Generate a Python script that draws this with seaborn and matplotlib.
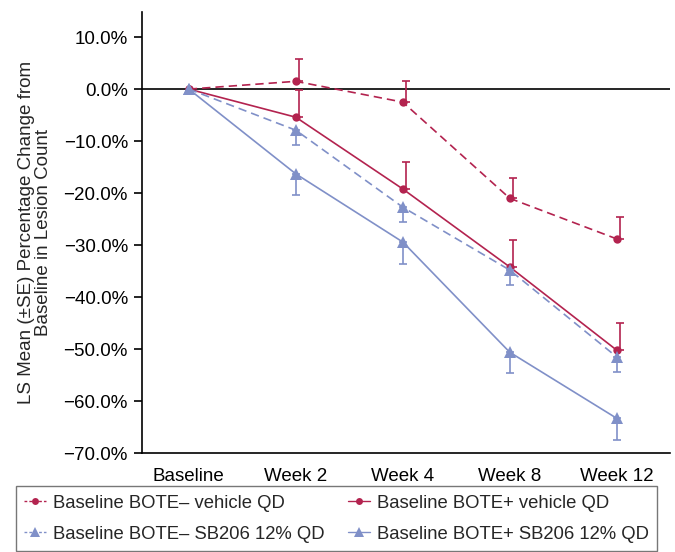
import matplotlib
matplotlib.use("Agg")
import matplotlib.pyplot as plt
import seaborn as sns
import pandas as pd
import numpy as np
from matplotlib.lines import Line2D

sns.set_theme(style="white")
plt.rcParams['font.family'] = ['Liberation Sans', 'DejaVu Sans']

timepoints = ["Baseline", "Week 2", "Week 4", "Week 8", "Week 12"]
series_names = ["Baseline BOTE\u2013 vehicle QD", "Baseline BOTE+ vehicle QD",
                "Baseline BOTE\u2013 SB206 12% QD", "Baseline BOTE+ SB206 12% QD"]

neg_vehicle = [0.0, 1.5, -2.5, -21.0, -28.8]
neg_vehicle_se = [0.0, 4.3, 4.0, 4.0, 4.2]
pos_vehicle = [0.0, -5.4, -19.2, -34.2, -50.2]
pos_vehicle_se = [0.0, 5.2, 5.2, 5.2, 5.2]
neg_sb206 = [0.0, -7.9, -22.7, -34.8, -51.5]
neg_sb206_se = [0.0, 2.9, 2.9, 2.9, 2.9]
pos_sb206 = [0.0, -16.3, -29.4, -50.6, -63.3]
pos_sb206_se = [0.0, 4.1, 4.2, 4.0, 4.2]

red = "#B3234F"
blue = "#8090C8"

styles = [
    (series_names[0], neg_vehicle, neg_vehicle_se, red, "o", (0, (5, 3)), "up"),
    (series_names[1], pos_vehicle, pos_vehicle_se, red, "o", "-", "up"),
    (series_names[2], neg_sb206, neg_sb206_se, blue, "^", (0, (5, 3)), "down"),
    (series_names[3], pos_sb206, pos_sb206_se, blue, "^", "-", "down"),
]

fig = plt.figure(figsize=(6.75, 5.52), dpi=100)
ax = fig.add_axes([0.210, 0.179, 0.783, 0.799])

x = np.arange(len(timepoints))
handles = []
for name, vals, se, col, mk, ls, direction in styles:
    df = pd.DataFrame({"x": x, "y": vals})
    msize = 6 if mk == "o" else 9
    sns.lineplot(data=df, x="x", y="y", ax=ax, color=col, marker=mk,
                 markersize=msize, markeredgewidth=0, linewidth=1.2,
                 linestyle=ls, legend=False)
    se = np.array(se)
    if direction == "up":
        yerr = [np.zeros_like(se), se]
        xo = x + 0.03
    else:
        yerr = [se, np.zeros_like(se)]
        xo = x
    ax.errorbar(xo[1:], np.array(vals)[1:], yerr=[yerr[0][1:], yerr[1][1:]],
                fmt="none", ecolor=col, elinewidth=1.2, capsize=3, capthick=1.2)
    hls = (0, (2, 1.5)) if ls != "-" else "-"
    handles.append(Line2D([0], [0], color=col, marker=mk, markersize=5 if mk == "o" else 7,
                          markeredgewidth=0, linestyle=hls, linewidth=1.0))

ax.axhline(0, color="black", linewidth=1.2, zorder=0)
ax.set_xlim(-0.44, 4.5)
ax.set_ylim(-70, 14.8)
ax.set_yticks(np.arange(-70, 11, 10))
ax.set_yticklabels([f"{v:.1f}%".replace("-", "\u2212") for v in np.arange(-70, 11, 10)])
ax.set_xticks(x)
ax.set_xticklabels(timepoints)
ax.set_xlabel("")
ax.set_ylabel("LS Mean (\u00b1SE) Percentage Change from\nBaseline in Lesion Count",
              fontsize=13.5, labelpad=8, linespacing=1.0)
for s in ["top", "right"]:
    ax.spines[s].set_visible(False)
for s in ["left", "bottom"]:
    ax.spines[s].set_color("black")
    ax.spines[s].set_linewidth(1.2)
ax.tick_params(axis="y", left=True, direction="out", length=6, width=1.2, labelsize=13.5,
               colors="black", pad=4)
ax.tick_params(axis="x", bottom=False, labelsize=13.5, colors="black", pad=5)

order = [0, 2, 1, 3]
leg = fig.legend([handles[i] for i in order], [series_names[i] for i in order],
                 ncol=2, loc="lower center", bbox_to_anchor=(0.4985, 0.002),
                 frameon=True, fontsize=13.3, handlelength=1.15,
                 handletextpad=0.38, columnspacing=1.3, borderaxespad=0.0,
                 fancybox=False, edgecolor="#555555", labelspacing=0.75,
                 borderpad=0.45)
leg.get_frame().set_linewidth(1.0)

fig.savefig("out.png", dpi=100)
